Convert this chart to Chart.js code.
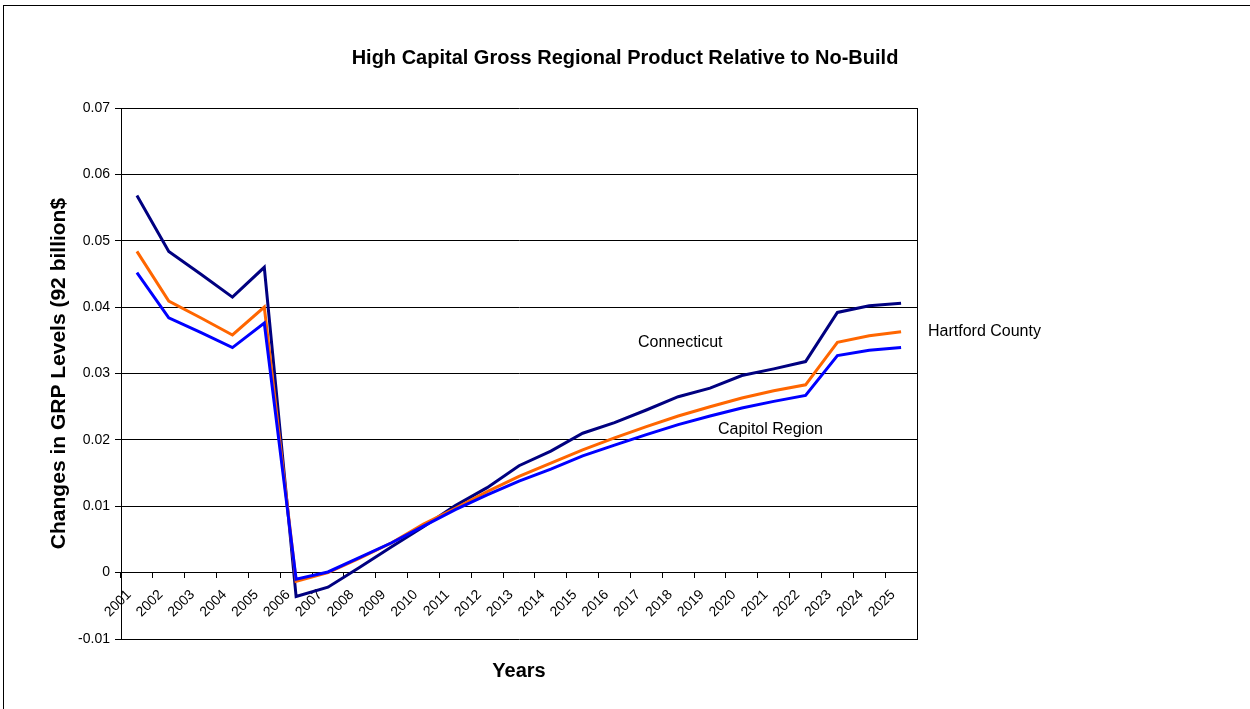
<!DOCTYPE html>
<html>
<head>
<meta charset="utf-8">
<script src="https://cdn.jsdelivr.net/npm/chart.js@4/dist/chart.umd.min.js"></script>
<style>
  html, body { margin: 0; padding: 0; background: #fff; }
  canvas { display: block; }
</style>
</head>
<body>
<canvas id="c" width="1250" height="709"></canvas>
<script>
const years = ["2001","2002","2003","2004","2005","2006","2007","2008","2009","2010","2011","2012","2013","2014","2015","2016","2017","2018","2019","2020","2021","2022","2023","2024","2025"];
const connecticut = [0.0568,0.0484,0.0450,0.0415,0.0460,-0.0036,-0.0022,0.0008,0.0039,0.0069,0.0101,0.0128,0.0161,0.0183,0.0210,0.0226,0.0245,0.0265,0.0278,0.0297,0.0307,0.0318,0.0392,0.0402,0.0406];
const hartfordCounty = [0.0484,0.0409,0.0384,0.0358,0.0400,-0.0013,0.0000,0.0022,0.0045,0.0073,0.0097,0.0122,0.0145,0.0165,0.0185,0.0203,0.0220,0.0236,0.0250,0.0263,0.0274,0.0283,0.0347,0.0357,0.0363];
const capitolRegion = [0.0452,0.0384,0.0362,0.0339,0.0376,-0.0010,0.0001,0.0023,0.0045,0.0070,0.0095,0.0117,0.0138,0.0156,0.0176,0.0192,0.0208,0.0223,0.0236,0.0248,0.0258,0.0267,0.0327,0.0335,0.0339];
const yTicks = [-0.01,0,0.01,0.02,0.03,0.04,0.05,0.06,0.07];

const FONT = "Arial, 'Liberation Sans', sans-serif";

const decor = {
  id: 'decor',
  beforeDraw(chart) {
    const ctx = chart.ctx;
    ctx.save();
    ctx.fillStyle = '#fff';
    ctx.fillRect(0, 0, chart.width, chart.height);
    ctx.strokeStyle = '#000';
    ctx.lineWidth = 1;
    ctx.strokeRect(3.5, 5.5, 1400, 900);
    ctx.restore();
  },
  afterDraw(chart) {
    const ctx = chart.ctx;
    ctx.save();
    ctx.fillStyle = '#000';
    ctx.font = "16px " + FONT;
    ctx.textBaseline = 'middle';
    ctx.textAlign = 'left';
    ctx.fillText('Connecticut', 638, 343);
    ctx.fillText('Capitol Region', 718, 430);
    ctx.fillText('Hartford County', 928, 332);
    ctx.restore();
  }
};

new Chart(document.getElementById('c'), {
  type: 'line',
  data: {
    labels: years,
    datasets: [
      { label: 'Connecticut', data: connecticut, borderColor: '#000080', backgroundColor: '#000080', borderWidth: 3, pointRadius: 0, tension: 0, order: 3, yAxisID: 'y' },
      { label: 'Hartford County', data: hartfordCounty, borderColor: '#FF6600', backgroundColor: '#FF6600', borderWidth: 3, pointRadius: 0, tension: 0, order: 2, yAxisID: 'y' },
      { label: 'Capitol Region', data: capitolRegion, borderColor: '#0000FF', backgroundColor: '#0000FF', borderWidth: 3, pointRadius: 0, tension: 0, order: 1, yAxisID: 'y' }
    ]
  },
  options: {
    responsive: false,
    animation: false,
    layout: { padding: 0 },
    plugins: {
      legend: { display: false },
      tooltip: { enabled: false },
      title: {
        display: true,
        text: 'High Capital Gross Regional Product Relative to No-Build',
        color: '#000',
        font: { family: FONT, size: 20, weight: 'bold', lineHeight: 1.2 },
        padding: { top: 46, bottom: 38 }
      },
      subtitle: {
        display: true,
        position: 'bottom',
        fullSize: false,
        text: 'Years',
        color: '#000',
        font: { family: FONT, size: 20, weight: 'bold', lineHeight: 1.2 },
        padding: { top: 20, bottom: 26 }
      }
    },
    scales: {
      x: {
        type: 'category',
        position: { y: 0 },
        offset: true,
        afterFit: s => { s.height = 0; },
        grid: { display: true, drawOnChartArea: false, offset: true, drawTicks: true, tickLength: 5, color: '#000', lineWidth: 1 },
        border: { display: true, color: '#000', width: 1 },
        ticks: { color: '#000', font: { family: FONT, size: 14 }, minRotation: 45, maxRotation: 45, autoSkip: false, padding: 9, labelOffset: -8 }
      },
      y: {
        position: 'left',
        min: -0.01,
        max: 0.07,
        afterFit: s => { s.width = 121; },
        afterBuildTicks: s => { s.ticks = yTicks.map(v => ({ value: v })); },
        grid: { color: '#000', lineWidth: 1, drawTicks: true, tickLength: 6 },
        border: { display: true, color: '#000', width: 1 },
        ticks: { color: '#000', font: { family: FONT, size: 14 }, padding: 5, callback: v => String(+v.toFixed(2)) },
        title: { display: true, text: 'Changes in GRP Levels (92 billion$', color: '#000', font: { family: FONT, size: 21, weight: 'bold', lineHeight: 1.2 }, padding: { top: 47, bottom: 0 } }
      },
      y2: {
        position: 'right',
        min: 0,
        max: 1,
        afterFit: s => { s.width = 333; },
        grid: { display: false },
        border: { display: true, color: '#000', width: 1 },
        ticks: { display: false }
      }
    }
  },
  plugins: [decor]
});
</script>
</body>
</html>
